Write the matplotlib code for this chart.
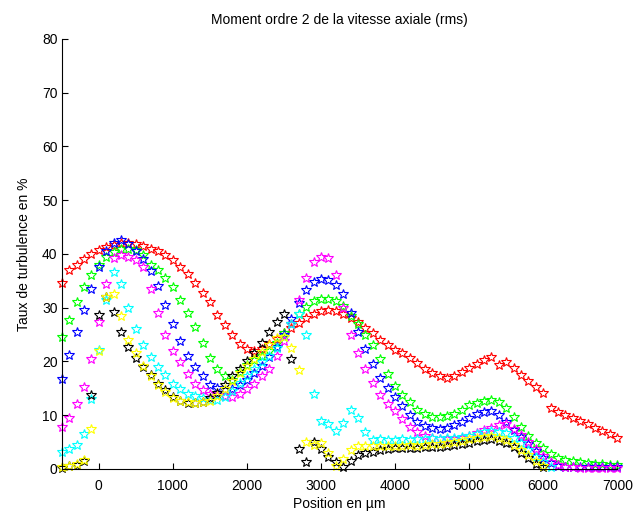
import numpy as np
import matplotlib
matplotlib.use("Agg")
import matplotlib.pyplot as plt

plt.rcParams['font.family'] = ['Liberation Sans', 'DejaVu Sans']

nan = np.nan

# positions in micrometres
position = list(range(-500, 7001, 100))

# turbulence rate (%) for each series
rouge = [34.5, 37, 38, 39, 40, 40.8, 41.3, 41.7, 42, 42,
         41.8, 41.5, 41, 40.5, 39.8, 38.8, 37.6, 36.3, 34.6, 32.8,
         31, 28.7, 26.8, 25, 23.3, 22.3, 21.9, 22.3, 23.2, 24.2,
         25.2, 26.3, 27.2, 28, 28.8, 29.3, 29.5, 29.4, 28.8, 28,
         27.3, 26.3, 25.3, 24, 23, 22.2, 21.5, 20.6, 19.7, 18.6,
         17.8, 17.2, 17, 17.3, 18, 18.8, 19.6, 20.3, 20.9, 19.3,
         19.8, 18.7, 17.4, 16.4, 15.2, 14.2, 11.3, 10.6, 10, 9.5,
         9, 8.4, 7.7, 7, 6.4, 5.8]

vert = [24.6, 27.7, 31.1, 33.9, 36.1, 38, 39.5, 40.4, 40.9, 41,
        40.8, 39.8, 38, 37, 35.5, 33.8, 31.5, 29, 26.4, 23.5,
        20.6, 18.6, 17.2, 16.5, 18, 19.3, 20.2, 21, 22, 23.5,
        25.2, 27, 28.8, 30.2, 31.2, 31.6, 31.6, 31.2, 30.3, 28.5,
        27, 25, 23, 20.5, 17.7, 15.4, 13.8, 12.4, 11, 10.2,
        9.7, 9.6, 9.8, 10.3, 11, 11.8, 12.3, 12.7, 12.9, 12.5,
        11.3, 9.6, 7.8, 6.1, 4.8, 3.8, 2.8, 2.1, 1.7, 1.4,
        1.2, 1.1, 1, 0.9, 0.8, 0.7]

bleu = [16.8, 21.2, 25.5, 29.6, 33.5, 37.5, 40.5, 42, 42.6, 41.8,
        40.5, 39, 36.8, 34, 30.5, 27, 23.8, 21, 19, 17.2,
        15.6, 15, 14.6, 14.8, 15.6, 16.6, 17.8, 19.2, 20.8, 22.6,
        25, 27.8, 30.8, 33.2, 34.8, 35.4, 35.2, 34.3, 32.5, 29,
        25.5, 22.3, 19.6, 16.9, 15, 13.4, 11.7, 10, 8.8, 8,
        7.6, 7.5, 7.7, 8.1, 8.7, 9.5, 10.2, 10.6, 10.7, 10.1,
        8.8, 7.3, 6, 4.7, 3.3, 2, 1.1, 0.6, 0.4, 0.3,
        0.3, 0.3, 0.3, 0.3, 0.3, 0.3]

magenta = [7.8, 9.5, 12.1, 15.3, 20.5, 27.3, 34.4, 39.2, 39.8, 39.5,
           38.8, 37.5, 33.5, 29, 25, 22, 19.8, 17.7, 15.8, 14.6,
           14, 13.7, 13.5, 13.4, 14, 14.8, 15.8, 17.2, 18.6, 21,
           23.8, 27, 31.5, 35.5, 38.5, 39.5, 39.3, 36, 30, 25,
           21.5, 18.5, 16, 13.8, 12, 10.8, 9.3, 7.8, 6.8, 6.2,
           5.8, 5.5, 5.5, 5.6, 5.8, 6.1, 6.6, 7.2, 7.6, 8.2,
           8.3, 7.5, 6.3, 5, 3.7, 2.4, 1.3, 0.7, 0.4, 0.3,
           0.2, 0.2, 0.2, 0.2, 0.2, 0.2]

cyan = [3.2, 3.7, 4.5, 6.5, 13, 22.1, 31.4, 36.7, 34.4, 30,
        26, 23, 20.8, 19, 17.5, 15.8, 14.8, 14, 13.6, 13.2,
        12.8, 12.8, 13.3, 14.5, 16, 17.3, 18.5, 19.8, 21, 22.5,
        24.5, 27, 28.8, 25, 14, 9, 8.4, 7, 8.5, 11,
        9.5, 6.8, 5.4, 5.5, 5.3, 5.4, 5.5, 5.4, 5.5, 5.6,
        5.7, 5.6, 5.7, 5.8, 6, 6.2, 6.5, 6.8, 7, 6.8,
        6.6, 5.8, 4.8, 3.5, 2.3, 1.2, 0.4, nan, nan, nan,
        nan, nan, nan, nan, nan, nan]

jaune = [0.3, 0.5, 0.9, 1.7, 7.4, 22, 32, 32.5, 28.5, 24,
         21.5, 19.2, 17.3, 15.6, 14.3, 13.1, 12.6, 12.4, 12.3, 12.4,
         12.7, 13.5, 14.8, 16.3, 17.8, 19.2, 20.5, 21.8, 23, 24.3,
         24.5, 22.5, 18.4, 5, 4.5, 4.8, 3, 0.6, 1.8, 3.6,
         4.2, 4.3, 4.2, 4.2, 4.3, 4.2, 4.3, 4.4, 4.3, 4.5,
         4.6, 4.7, 4.8, 5, 5.2, 5.5, 5.8, 6, 6.2, 5.8,
         5.3, 4.5, 3.5, 2.5, 1.4, 0.5, nan, nan, nan, nan,
         nan, nan, nan, nan, nan, nan]

noir = [0.2, 0.5, 0.8, 1.5, 13.8, 28.6, 32, 29.2, 25.5, 22.7,
        20.6, 19, 17.5, 15.8, 14.7, 13.4, 12.7, 12.3, 12.2, 12.4,
        13.1, 14.2, 15.6, 17.2, 18.6, 20, 21.5, 23.5, 25.5, 27.3,
        28.8, 20.5, 3.7, 1.3, 5, 3.7, 2.2, 1.2, 0.4, 1.5,
        2.5, 3, 3.2, 3.5, 3.7, 3.8, 3.8, 3.9, 3.9, 4,
        4, 4.1, 4.2, 4.4, 4.6, 4.9, 5.2, 5.4, 5.6, 5.2,
        4.8, 4, 3, 2, 1, 0.3, nan, nan, nan, nan,
        nan, nan, nan, nan, nan, nan]

series = [(rouge, '#ff0000'), (vert, '#00ff00'), (bleu, '#0000ff'),
          (magenta, '#ff00ff'), (cyan, '#00ffff'), (noir, '#000000'),
          (jaune, '#ffff00')]

fig = plt.figure(figsize=(6.37, 5.13), dpi=100)
ax = fig.add_axes([0.097, 0.086, 0.872, 0.838])

for vals, col in series:
    ax.plot(position, vals, linestyle='none', marker='*', markersize=7,
            markerfacecolor='none', markeredgecolor=col, markeredgewidth=0.8,
            clip_on=False)

ax.set_xlim(-500, 7000)
ax.set_ylim(0, 80)
ax.set_xticks(range(0, 7001, 1000))
ax.set_yticks(range(0, 81, 10))
ax.spines['top'].set_visible(False)
ax.spines['right'].set_visible(False)
ax.tick_params(direction='in', length=4, labelsize=10)
ax.tick_params(axis='x', pad=7)
ax.tick_params(axis='y', pad=3)

ax.set_title('Moment ordre 2 de la vitesse axiale (rms)', fontsize=10, pad=11)
ax.set_xlabel('Position en µm', fontsize=10, labelpad=3)
ax.set_ylabel('Taux de turbulence en %', fontsize=10, labelpad=8)

fig.savefig('out.png', dpi=100)
